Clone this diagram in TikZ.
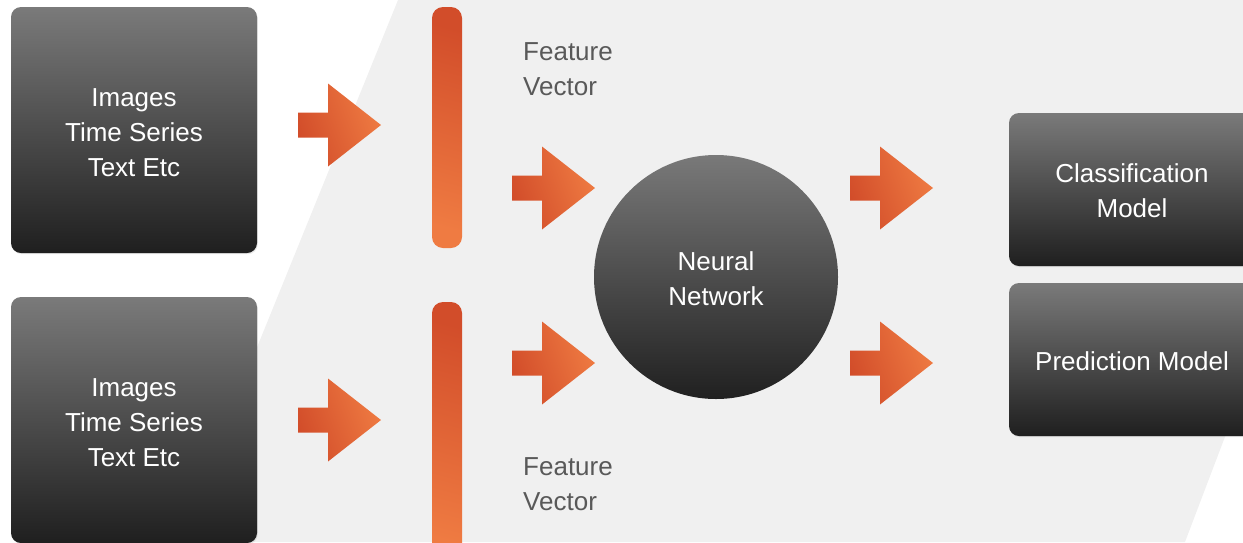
\documentclass[tikz,border=0pt]{standalone}
\usepackage{fontspec}
\setmainfont{Liberation Sans}
\usetikzlibrary{shadows}
\definecolor{bgpanel}{HTML}{F0F0F0}
\definecolor{greytop}{HTML}{7A7A7A}
\definecolor{greybot}{HTML}{1F1F1F}
\definecolor{orangeA}{HTML}{D24D2A}
\definecolor{orangeB}{HTML}{EF7B42}
\definecolor{labelgrey}{HTML}{595959}
\tikzset{
  boxtext/.style={text=white, align=center, font=\fontsize{26}{35}\selectfont, inner sep=0pt},
  darkbox/.style={rectangle, rounded corners=10pt, top color=greytop, bottom color=greybot,
    draw=none, inner sep=0pt,
    drop shadow={opacity=0.18, shadow xshift=0.8pt, shadow yshift=-1.2pt},
    label={[boxtext, yshift=-#1]center:\boxcontent}},
  darkshade/.style={top color=greytop, bottom color=greybot, draw=none},
  featurebar/.style={rectangle, rounded corners=11pt, top color=orangeA, bottom color=orangeB,
    shading angle=-15, draw=none, minimum width=30pt, inner sep=0pt},
  arrowfill/.style={left color=orangeA, right color=orangeB, shading angle=110, draw=none},
  fvlabel/.style={text=labelgrey, align=left, anchor=west, inner sep=0pt,
    font=\fontsize{26}{35}\selectfont},
  blockarrow/.pic={
    \path[arrowfill] (0,-12.5) -- (30,-12.5) -- (30,-41.5) -- (83,0) -- (30,41.5)
      -- (30,12.5) -- (0,12.5) -- cycle;
  }
}
\newcommand\boxcontent{}
\begin{document}
\begin{tikzpicture}[x=1pt,y=-1pt]
\useasboundingbox (0,0) rectangle (1243,542);
\clip (0,0) rectangle (1243,542);

% light slanted panel behind the pipeline
\fill[bgpanel] (398,0) -- (1391,0) -- (1185,542) -- (178,542) -- cycle;

% input boxes
\renewcommand\boxcontent{Images\\Time Series\\Text Etc}
\node[darkbox=3pt, minimum width=246pt, minimum height=246pt] (in1) at (134,130) {};
\node[darkbox=3pt, minimum width=246pt, minimum height=246pt] (in2) at (134,420) {};

% feature vectors
\node[featurebar, minimum height=241pt] (fv1) at (447,127.5) {};
\node[featurebar, minimum height=260pt] (fv2) at (447,432) {};
\node[fvlabel] (fl1) at (523,69) {Feature\\Vector};
\node[fvlabel] (fl2) at (523,484) {Feature\\Vector};

% network: shaded disc (shading clipped to the circle) with its caption
\coordinate (nnc) at (716,277);
\begin{scope}
  \clip (nnc) circle[radius=122pt];
  \shade[darkshade] (590,152) rectangle (842,402);
\end{scope}
\node[boxtext, yshift=-1.5pt] (nn) at (nnc) {Neural\\Network};

% output models
\renewcommand\boxcontent{Classification\\Model}
\node[darkbox=1.5pt, minimum width=246pt, minimum height=153pt] (cls) at (1132,189.5) {};
\renewcommand\boxcontent{Prediction Model}
\node[darkbox=1.5pt, minimum width=246pt, minimum height=153pt] (pred) at (1132,359.5) {};

% block arrows between the stages
\pic at (298,125) {blockarrow};
\pic at (298,420) {blockarrow};
\pic at (512,188) {blockarrow};
\pic at (512,363) {blockarrow};
\pic at (850,188) {blockarrow};
\pic at (850,363) {blockarrow};
\end{tikzpicture}
\end{document}
